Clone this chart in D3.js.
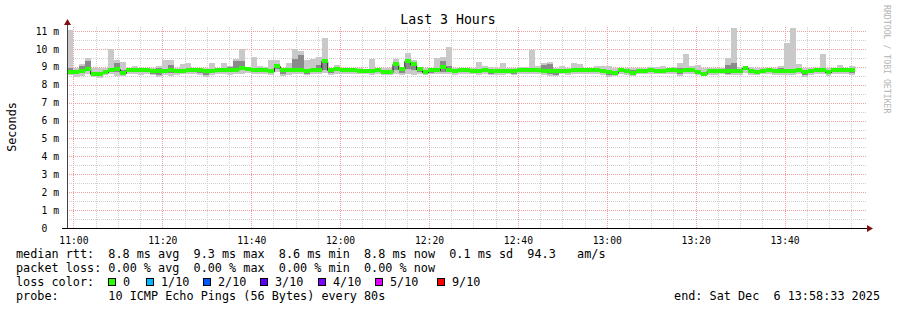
<!DOCTYPE html>
<html>
<head>
<meta charset="utf-8">
<script src="https://cdn.jsdelivr.net/npm/d3@7"></script>
<style>
body { margin: 0; background: #fff; }
svg { display: block; }
text { font-family: "DejaVu Sans Mono", monospace; white-space: pre; fill: #000; }
</style>
</head>
<body>
<svg width="897" height="310"></svg>
<script>
// one value per 80s step, in ms
const medianRtt = [
  8.72, 8.72, 8.74, 8.90, 8.61, 8.61, 8.70, 8.85, 8.89, 8.68,
  8.83, 8.81, 8.81, 8.81, 8.79, 8.78, 8.78, 8.80, 8.76, 8.78,
  8.80, 8.80, 8.80, 8.78, 8.78, 8.80, 8.83, 8.85, 8.85, 8.93,
  8.89, 8.85, 8.85, 8.85, 8.76, 9.05, 8.85, 8.85, 8.85, 8.85,
  8.78, 8.83, 8.85, 9.32, 8.81, 8.89, 8.83, 8.83, 8.81, 8.78,
  8.76, 8.76, 8.81, 8.72, 8.72, 9.17, 8.87, 9.30, 9.13, 8.87,
  8.72, 8.81, 8.83, 8.97, 8.83, 8.74, 8.80, 8.83, 8.78, 8.74,
  8.80, 8.78, 8.76, 8.78, 8.76, 8.76, 8.81, 8.83, 8.83, 8.81,
  8.78, 8.74, 8.76, 8.78, 8.74, 8.80, 8.83, 8.80, 8.80, 8.80,
  8.78, 8.72, 8.63, 8.80, 8.78, 8.65, 8.78, 8.78, 8.81, 8.78,
  8.78, 8.81, 8.81, 8.78, 8.81, 8.83, 8.72, 8.61, 8.76, 8.76,
  8.78, 8.78, 8.76, 8.78, 8.92, 8.78, 8.72, 8.78, 8.81, 8.78,
  8.76, 8.78, 8.78, 8.85, 8.72, 8.74, 8.83, 8.80, 8.72, 8.81,
  8.80, 8.83, 8.80
];
const pingMax = [
  11.08, 8.95, 9.13, 9.50, 8.95, 8.91, 8.95, 10.00, 9.40, 9.25,
  8.95, 9.07, 8.96, 8.91, 8.94, 9.05, 9.37, 9.37, 8.95, 9.15,
  9.20, 8.96, 8.95, 8.94, 9.20, 8.94, 9.24, 9.06, 9.43, 9.99,
  8.98, 9.54, 9.04, 9.00, 9.37, 9.37, 8.94, 9.20, 10.00, 9.90,
  9.40, 9.43, 9.54, 10.60, 8.94, 9.09, 8.94, 8.91, 8.94, 8.91,
  8.88, 9.43, 8.94, 8.91, 8.91, 9.45, 8.94, 9.75, 9.40, 8.94,
  8.94, 8.94, 9.47, 9.56, 10.10, 8.91, 8.94, 8.94, 8.94, 9.26,
  9.02, 8.98, 8.94, 9.20, 8.94, 8.94, 8.98, 9.00, 9.95, 9.06,
  9.22, 9.26, 8.94, 9.02, 8.91, 9.20, 9.15, 8.94, 8.91, 9.07,
  9.07, 9.02, 8.94, 8.91, 8.94, 8.94, 8.91, 8.91, 8.98, 8.98,
  9.07, 8.94, 8.98, 9.20, 9.70, 9.02, 9.09, 8.91, 8.91, 8.91,
  8.94, 9.50, 11.15, 8.99, 9.02, 8.98, 8.94, 8.91, 8.94, 8.94,
  9.04, 10.34, 11.15, 9.17, 8.91, 8.94, 8.91, 9.73, 8.94, 8.91,
  9.09, 8.94, 9.02
];
const pingHigh = [
  8.95, 8.82, 9.02, 9.30, 8.72, 8.70, 8.80, 8.95, 9.22, 8.80,
  8.90, 8.90, 8.88, 8.86, 8.86, 8.95, 8.88, 9.12, 8.86, 8.86,
  8.88, 8.88, 8.86, 8.84, 8.88, 8.88, 8.92, 9.00, 9.30, 9.32,
  8.95, 8.94, 8.94, 8.92, 8.90, 9.15, 8.90, 8.92, 9.45, 9.65,
  8.90, 8.95, 9.10, 9.45, 8.90, 8.95, 8.90, 8.88, 8.88, 8.86,
  8.82, 8.86, 8.88, 8.80, 8.80, 9.25, 8.92, 9.40, 9.25, 8.92,
  8.82, 8.88, 8.95, 9.30, 9.05, 8.82, 8.86, 8.88, 8.86, 8.84,
  8.86, 8.86, 8.84, 8.86, 8.84, 8.84, 8.90, 8.92, 8.92, 8.90,
  9.12, 9.15, 8.84, 8.86, 8.82, 8.88, 8.90, 8.88, 8.86, 8.90,
  8.90, 8.84, 8.75, 8.86, 8.86, 8.80, 8.86, 8.86, 8.88, 8.86,
  8.88, 8.88, 8.88, 8.95, 8.90, 8.90, 8.82, 8.72, 8.84, 8.84,
  8.86, 9.10, 9.20, 8.88, 8.96, 8.88, 8.82, 8.86, 8.88, 8.86,
  8.96, 8.88, 8.88, 8.95, 8.82, 8.84, 8.88, 8.90, 8.82, 8.86,
  8.88, 8.90, 8.88
];
const pingLow = [
  8.62, 8.62, 8.64, 8.80, 8.55, 8.52, 8.62, 8.75, 8.72, 8.60,
  8.76, 8.74, 8.72, 8.72, 8.60, 8.52, 8.68, 8.65, 8.68, 8.70,
  8.72, 8.72, 8.66, 8.55, 8.68, 8.72, 8.74, 8.70, 8.74, 8.80,
  8.80, 8.76, 8.76, 8.76, 8.66, 8.88, 8.62, 8.70, 8.74, 8.74,
  8.60, 8.72, 8.74, 8.85, 8.65, 8.78, 8.74, 8.74, 8.72, 8.70,
  8.68, 8.66, 8.70, 8.64, 8.64, 8.80, 8.66, 8.90, 8.85, 8.72,
  8.64, 8.68, 8.70, 8.70, 8.72, 8.66, 8.70, 8.74, 8.70, 8.66,
  8.72, 8.62, 8.68, 8.68, 8.68, 8.60, 8.72, 8.74, 8.74, 8.72,
  8.66, 8.60, 8.55, 8.68, 8.66, 8.70, 8.74, 8.72, 8.72, 8.70,
  8.66, 8.55, 8.55, 8.70, 8.68, 8.58, 8.70, 8.70, 8.72, 8.70,
  8.70, 8.72, 8.72, 8.58, 8.72, 8.72, 8.62, 8.55, 8.68, 8.68,
  8.70, 8.62, 8.65, 8.66, 8.80, 8.68, 8.64, 8.70, 8.72, 8.68,
  8.66, 8.68, 8.66, 8.74, 8.55, 8.66, 8.72, 8.70, 8.58, 8.72,
  8.70, 8.74, 8.68
];
const pingMin = [
  8.53, 8.45, 8.47, 8.60, 8.45, 8.38, 8.52, 8.60, 8.50, 8.48,
  8.60, 8.58, 8.55, 8.58, 8.52, 8.45, 8.55, 8.50, 8.57, 8.58,
  8.60, 8.60, 8.53, 8.45, 8.55, 8.60, 8.60, 8.55, 8.60, 8.62,
  8.66, 8.62, 8.62, 8.60, 8.55, 8.70, 8.50, 8.55, 8.60, 8.60,
  8.52, 8.60, 8.60, 8.65, 8.55, 8.62, 8.62, 8.62, 8.60, 8.60,
  8.58, 8.55, 8.58, 8.55, 8.55, 8.62, 8.55, 8.62, 8.55, 8.60,
  8.55, 8.58, 8.58, 8.58, 8.60, 8.55, 8.60, 8.62, 8.60, 8.55,
  8.60, 8.52, 8.57, 8.56, 8.58, 8.52, 8.60, 8.62, 8.62, 8.60,
  8.55, 8.50, 8.47, 8.58, 8.56, 8.58, 8.62, 8.60, 8.60, 8.58,
  8.55, 8.45, 8.47, 8.58, 8.56, 8.50, 8.58, 8.58, 8.60, 8.58,
  8.58, 8.60, 8.60, 8.47, 8.60, 8.60, 8.52, 8.48, 8.57, 8.57,
  8.58, 8.52, 8.55, 8.55, 8.65, 8.55, 8.55, 8.58, 8.60, 8.56,
  8.55, 8.56, 8.55, 8.60, 8.45, 8.55, 8.60, 8.58, 8.50, 8.60,
  8.58, 8.62, 8.56
];

const yTicks = [0, 1, 2, 3, 4, 5, 6, 7, 8, 9, 10, 11];
const lossLabels = ['0', '1/10', '2/10', '3/10', '4/10', '5/10', '9/10'];
const lossColors = ['#26ff00', '#00b8ff', '#0059ff', '#5e00ff', '#7e00ff', '#dd00ff', '#ff0000'];
const lossBoxX = [108, 146, 203, 260, 318, 375, 437];

const legendLines = [
  'median rtt:  8.8 ms avg  9.3 ms max  8.6 ms min  8.8 ms now  0.1 ms sd  94.3   am/s',
  'packet loss: 0.00 % avg  0.00 % max  0.00 % min  0.00 % now',
  'loss color:',
  'probe:       10 ICMP Echo Pings (56 Bytes) every 80s'
];
const endLabel = 'end: Sat Dec  6 13:58:33 2025';

const stepSec = 80;
const endTime = new Date(2025, 11, 6, 13, 58, 33);
const startTime = new Date(endTime.getTime() - 3 * 3600 * 1000);
const stepTime = i => new Date(startTime.getTime() + i * stepSec * 1000);

const svg = d3.select('svg');

const x = d3.scaleTime().domain([startTime, endTime]).range([67, 867]);
const y = d3.scaleLinear().domain([0, 11]).range([228, 31]);

// grid
const grid = svg.append('g');
grid.selectAll('.vmin')
  .data(d3.timeMinute.every(5).range(startTime, endTime))
  .enter().append('line')
  .attr('x1', d => Math.round(x(d)) + 0.5).attr('x2', d => Math.round(x(d)) + 0.5)
  .attr('y1', 228).attr('y2', 26)
  .attr('stroke', '#d0d0d0').attr('stroke-dasharray', '1,1');
grid.selectAll('.hmin')
  .data(d3.range(0.5, 11, 1))
  .enter().append('line')
  .attr('x1', 67).attr('x2', 867)
  .attr('y1', d => Math.round(y(d)) + 0.5).attr('y2', d => Math.round(y(d)) + 0.5)
  .attr('stroke', '#d0d0d0').attr('stroke-dasharray', '1,1');
grid.selectAll('.vmaj')
  .data(d3.timeMinute.every(20).range(startTime, endTime))
  .enter().append('line')
  .attr('x1', d => Math.round(x(d)) + 0.5).attr('x2', d => Math.round(x(d)) + 0.5)
  .attr('y1', 228).attr('y2', 26)
  .attr('stroke', '#f4a0a0').attr('stroke-dasharray', '1,1');
grid.selectAll('.hmaj')
  .data(yTicks.slice(1))
  .enter().append('line')
  .attr('x1', 67).attr('x2', 867)
  .attr('y1', d => Math.round(y(d)) + 0.5).attr('y2', d => Math.round(y(d)) + 0.5)
  .attr('stroke', '#f4a0a0').attr('stroke-dasharray', '1,1');

// smoke
const steps = medianRtt.map((m, i) => ({
  i: i, median: m, max: pingMax[i], high: pingHigh[i], low: pingLow[i], min: pingMin[i]
}));
const stepX = d => x(stepTime(d.i));
const stepW = d => x(stepTime(d.i + 1)) - x(stepTime(d.i));

svg.append('g').selectAll('rect')
  .data(steps).enter().append('rect')
  .attr('x', stepX).attr('width', stepW)
  .attr('y', d => y(d.max)).attr('height', d => y(d.min) - y(d.max))
  .attr('fill', '#c9c9c9').attr('shape-rendering', 'crispEdges');

svg.append('g').selectAll('rect')
  .data(steps).enter().append('rect')
  .attr('x', stepX).attr('width', stepW)
  .attr('y', d => y(d.high)).attr('height', d => y(d.low) - y(d.high))
  .attr('fill', '#8a8a8a').attr('shape-rendering', 'crispEdges');

// median line, then loss coloured band over it
const linePts = steps.map(d => [stepTime(d.i), d.median]);
linePts.push([stepTime(steps.length), medianRtt[medianRtt.length - 1]]);
svg.append('path')
  .datum(linePts)
  .attr('d', d3.line().x(d => x(d[0])).y(d => Math.round(y(d[1])) + 0.5).curve(d3.curveStepAfter))
  .attr('fill', 'none').attr('stroke', '#202020').attr('stroke-width', 1);

svg.append('g').selectAll('rect')
  .data(steps).enter().append('rect')
  .attr('x', stepX).attr('width', stepW)
  .attr('y', d => y(d.median) - 2).attr('height', 4)
  .attr('fill', lossColors[0]).attr('shape-rendering', 'crispEdges');

// axes
svg.append('line').attr('x1', 67.5).attr('x2', 67.5).attr('y1', 228).attr('y2', 22)
  .attr('stroke', '#444');
svg.append('line').attr('x1', 62).attr('x2', 868).attr('y1', 228.5).attr('y2', 228.5)
  .attr('stroke', '#000');
svg.append('path').attr('d', 'M867,225L873,228.5L867,232Z').attr('fill', '#7f1010');
svg.append('path').attr('d', 'M64,25L67.5,19L71,25Z').attr('fill', '#7f1010');

const xAxis = svg.append('g')
  .attr('transform', 'translate(0,228)')
  .call(d3.axisBottom(x)
    .ticks(d3.timeMinute.every(20))
    .tickFormat(d3.timeFormat('%H:%M'))
    .tickSize(0).tickPadding(9));
xAxis.select('.domain').remove();
xAxis.selectAll('text').attr('font-size', '9.7px').attr('fill', '#000')
  .style('font-family', '"DejaVu Sans Mono", monospace');

const yAxis = svg.append('g')
  .attr('transform', 'translate(59,0)')
  .call(d3.axisLeft(y)
    .tickValues(yTicks)
    .tickFormat(d => d === 0 ? '0' : d + ' m')
    .tickSize(0).tickPadding(0));
yAxis.select('.domain').remove();
yAxis.selectAll('text').attr('font-size', '9.7px').attr('fill', '#000')
  .style('font-family', '"DejaVu Sans Mono", monospace')
  .attr('x', d => d === 0 ? -11.6 : 0);

// titles
svg.append('text').attr('x', 448).attr('y', 24).attr('text-anchor', 'middle')
  .attr('font-size', '13.2px').text('Last 3 Hours');
svg.append('text').attr('transform', 'translate(15.5,127) rotate(-90)')
  .attr('text-anchor', 'middle').attr('font-size', '11.8px').text('Seconds');
svg.append('text').attr('transform', 'translate(884,5) rotate(90)')
  .attr('font-size', '8.2px').style('fill', '#b4b4b4').text('RRDTOOL / TOBI OETIKER');

// legend
svg.append('g').selectAll('text')
  .data(legendLines).enter().append('text')
  .attr('x', 16).attr('y', (d, i) => 258 + i * 14)
  .attr('font-size', '11.8px').text(d => d);
svg.append('text').attr('x', 880).attr('y', 300).attr('text-anchor', 'end')
  .attr('font-size', '11.8px').text(endLabel);

const loss = svg.append('g').selectAll('g')
  .data(lossLabels).enter().append('g');
loss.append('rect')
  .attr('x', (d, i) => lossBoxX[i] + 0.5).attr('y', 278.5)
  .attr('width', 7).attr('height', 7)
  .attr('fill', (d, i) => lossColors[i]).attr('stroke', '#000');
loss.append('text')
  .attr('x', (d, i) => lossBoxX[i] + 15).attr('y', 286)
  .attr('font-size', '11.8px').text(d => d);
</script>
</body>
</html>
